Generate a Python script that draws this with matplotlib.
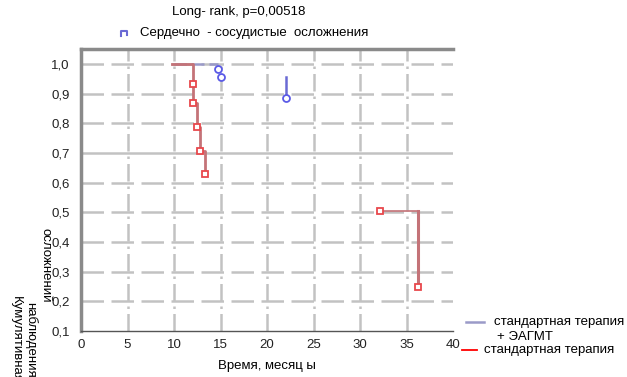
import matplotlib
matplotlib.use('Agg')
import matplotlib.pyplot as plt
from matplotlib.lines import Line2D

plt.rcParams['font.family'] = ['Liberation Sans', 'DejaVu Sans']
plt.rcParams['font.size'] = 9

# standard therapy (red): step curve and censor marks
red_t = [9.8, 12.0, 12.0, 12.5, 12.8, 13.3]
red_s = [1.0, 0.933, 0.869, 0.788, 0.707, 0.629]
red_t2 = [32.1, 36.2]
red_s2 = [0.503, 0.249]

# standard therapy + EAGMT (blue)
blue_t = [10.0, 14.7, 15.0, 22.0]
blue_s = [1.0, 0.981, 0.954, 0.886]

xticks = [0, 5, 10, 15, 20, 25, 30, 35, 40]
yticks = [0.1, 0.2, 0.3, 0.4, 0.5, 0.6, 0.7, 0.8, 0.9, 1.0]
ytick_labels = ['0,1', '0,2', '0,3', '0,4', '0,5', '0,6', '0,7', '0,8', '0,9', '1,0']

red_line = '#c47378'
red_mark = '#e8484c'
blue_line = '#6a6ad4'
blue_mark = '#5a5ae6'
grid_c = '#c2c2c2'

fig = plt.figure(figsize=(6.27, 3.77), dpi=100)
ax = fig.add_axes([81 / 627, 1 - 331 / 377, (453 - 81) / 627, (331 - 49) / 377])
ax.set_xlim(0, 40)
ax.set_ylim(0.1, 1.05)

# broken-looking grid
for y in yticks[1:]:
    if abs(y - 0.7) < 1e-6:
        ax.axhline(y, color=grid_c, lw=1.8, zorder=1)
    else:
        ax.axhline(y, color=grid_c, lw=1.8, ls=(0, (9, 3)), zorder=1)
for x in xticks[1:-1]:
    ax.axvline(x, color=grid_c, lw=1.8, ls=(0, (7, 2, 1, 2)), zorder=1)

# red curve
ax.step(red_t, red_s, where='post', color=red_line, lw=2, zorder=3)
ax.step(red_t2, red_s2, where='post', color=red_line, lw=1.2, zorder=3)
ax.plot([red_t2[1], red_t2[1]], [red_s2[0], red_s2[1]], color=red_line, lw=2.2, zorder=3)
ax.plot(red_t[1:], red_s[1:], 's', ms=5, mfc='white', mec=red_mark, mew=1.3, zorder=4)
ax.plot(red_t2, red_s2, 's', ms=5, mfc='white', mec=red_mark, mew=1.3, zorder=4)

# blue curve
ax.plot([blue_t[0], blue_t[1]], [blue_s[0], blue_s[0]], color='#9a9ac8', lw=1.8, ls=(0, (5, 2)), zorder=2)
ax.plot([blue_t[3], blue_t[3]], [0.955, blue_s[3]], color=blue_line, lw=1.8, zorder=3)
ax.plot(blue_t[1:], blue_s[1:], 'o', ms=5, mfc='white', mec=blue_mark, mew=1.3, zorder=4)

ax.set_xticks(xticks)
ax.set_yticks(yticks)
ax.set_yticklabels(ytick_labels)
ax.tick_params(length=0, labelsize=9.5, colors='#222222', pad=6)
ax.tick_params(axis='y', pad=8)
for s in ['left', 'top']:
    ax.spines[s].set_color('#8a8a8a')
    ax.spines[s].set_linewidth(2.5)
ax.spines['bottom'].set_color('#555555')
ax.spines['bottom'].set_linewidth(1)
ax.spines['right'].set_visible(False)

ax.set_xlabel('Время, месяц ы', fontsize=9.5, labelpad=6)

fig.text(239 / 627, 1 - 12 / 377, 'Long- rank, p=0,00518', ha='center', va='center', fontsize=9.5)
fig.text(140 / 627, 1 - 33 / 377, 'Сердечно  - сосудистые  осложнения', ha='left', va='center', fontsize=9.5)
fig.add_artist(Line2D([121 / 627, 121 / 627, 127 / 627, 127 / 627],
                      [1 - 36 / 377, 1 - 31 / 377, 1 - 31 / 377, 1 - 35 / 377],
                      color=blue_line, lw=1.5))

# y label pieces (rotated, reading top-down)
fig.text(45 / 627, 1 - 228 / 377, 'осложнений', rotation=270, ha='center', va='top', fontsize=9.5)
fig.text(31 / 627, 1 - 302 / 377, 'наблюдения', rotation=270, ha='center', va='top', fontsize=9.5)
fig.text(16 / 627, 1 - 296 / 377, 'Кумулятивная', rotation=270, ha='center', va='top', fontsize=9.5)

# bottom-right legend
fig.add_artist(Line2D([466 / 627, 484 / 627], [1 - 322 / 377] * 2, color='#9a9ac8', lw=1.8))
fig.text(494 / 627, 1 - 322 / 377, 'стандартная терапия', ha='left', va='center', fontsize=9.5)
fig.text(497 / 627, 1 - 337 / 377, '+ ЭАГМТ', ha='left', va='center', fontsize=9.5)
fig.add_artist(Line2D([462 / 627, 477 / 627], [1 - 350 / 377] * 2, color='red', lw=1.3))
fig.text(484 / 627, 1 - 350 / 377, 'стандартная терапия', ha='left', va='center', fontsize=9.5)

fig.savefig('out.png', dpi=100)
